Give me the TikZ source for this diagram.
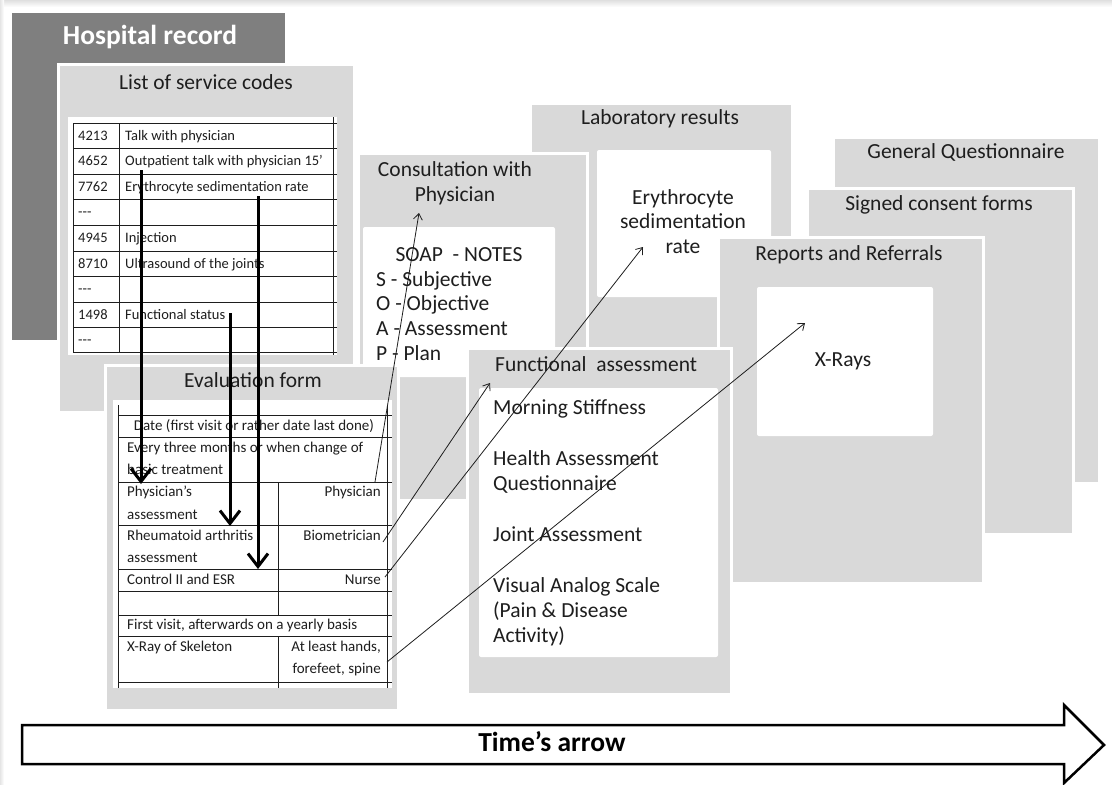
\documentclass[tikz,border=0pt]{standalone}
\usepackage{fontspec}
\setmainfont{Carlito}
\usetikzlibrary{arrows.meta}
\definecolor{panel}{RGB}{217,217,217}
\definecolor{hosp}{RGB}{127,127,127}
\definecolor{ink}{RGB}{30,30,30}
\newcommand{\titlefont}{\fontsize{21.5bp}{24.8bp}\selectfont}
\newcommand{\cellfont}{\fontsize{14.5bp}{22bp}\selectfont}
\newcommand{\evfont}{\fontsize{15bp}{22bp}\selectfont}
\newcommand{\bigbold}{\fontsize{27.5bp}{30bp}\selectfont\bfseries}
\begin{document}
\begin{tikzpicture}[x=1bp,y=-1bp,
  panelbox/.style={fill=panel, draw=white, line width=3bp},
  innerbox/.style={fill=white, rounded corners=2bp},
  ttl/.style={font=\titlefont, inner sep=0pt, text=ink, anchor=mid, yshift=-4bp},
  itm/.style={font=\titlefont, inner sep=0pt, text=ink, anchor=mid west, yshift=-4bp},
  cell/.style={font=\cellfont, inner sep=0pt, text=ink, anchor=mid west, yshift=-2.5bp},
  evl/.style={font=\evfont, inner sep=0pt, text=ink, anchor=mid west, yshift=-2.5bp},
  evr/.style={font=\evfont, inner sep=0pt, text=ink, anchor=mid east, yshift=-2.5bp},
  evc/.style={font=\evfont, inner sep=0pt, text=ink, anchor=mid, yshift=-2.5bp},
  bigtxt/.style={font=\bigbold, inner sep=0pt, anchor=mid, yshift=-4.5bp},
  tbl/.style={line width=0.8bp, draw=ink},
  bigarrow/.style={line width=3bp, draw=black, -{Straight Barb[length=13bp,width=20bp]}},
  thinarrow/.style={line width=0.8bp, draw=ink, -{Straight Barb[length=6bp,width=9bp]}}
]
\useasboundingbox (0,0) rectangle (1112,785);
\fill[white] (0,0) rectangle (1112,785);
\shade[top color=gray!25, bottom color=white] (0,0) rectangle (1112,7);
\shade[left color=gray!20, right color=white] (0,0) rectangle (4,785);

% Hospital record
\fill[hosp] (12,13) rectangle (285,340);
\node[bigtxt, text=white] (hosp) at (150,38) {Hospital record};

% General Questionnaire
\path[panelbox] (833,137) rectangle (1099,483);
\node[ttl] (genq) at (966,152) {General Questionnaire};

% Signed consent forms
\path[panelbox] (807,188) rectangle (1073,534);
\node[ttl] (signed) at (939,204) {Signed consent forms};

% Laboratory results
\path[panelbox] (530,103) rectangle (792,449);
\path[innerbox] (597,150) rectangle (771,297);
\node[ttl] (lab) at (660,118) {Laboratory results};
\node[ttl] (esr1) at (683,198) {Erythrocyte};
\node[ttl] (esr2) at (683,222) {sedimentation};
\node[ttl] (esr3) at (683,247) {rate};

% Consultation with Physician
\path[panelbox] (358,153) rectangle (587,500);
\path[innerbox] (363,227) rectangle (555,377);
\node[ttl] (cons1) at (455,170) {Consultation with};
\node[ttl] (cons2) at (455,195) {Physician};
\node[ttl] (soap) at (459,255) {SOAP\ \ - NOTES};
\node[itm] (soapS) at (376,280) {S - Subjective};
\node[itm] (soapO) at (376,304) {O - Objective};
\node[itm] (soapA) at (376,329) {A - Assessment};
\node[itm] (soapP) at (376,354) {P - Plan};

% Reports and Referrals
\path[panelbox] (718,237) rectangle (983,583);
\path[innerbox] (757,287) rectangle (933,436);
\node[ttl] (rep) at (849,254) {Reports and Referrals};
\node[ttl] (xr) at (843,360) {X-Rays};

% Functional assessment
\path[panelbox] (467,348) rectangle (731,694);
\path[innerbox] (479,388) rectangle (718,657);
\node[itm] (func) at (495,365) {Functional\ \ assessment};
\node[itm] (f1) at (493,408) {Morning Stiffness};
\node[itm] (f2) at (493,459) {Health Assessment};
\node[itm] (f2b) at (493,484) {Questionnaire};
\node[itm] (f3) at (493,535) {Joint Assessment};
\node[itm] (f4) at (493,586) {Visual Analog Scale};
\node[itm] (f4b) at (493,611) {(Pain \& Disease};
\node[itm] (f4c) at (493,636) {Activity)};

% List of service codes
\path[panelbox] (58,65) rectangle (354,412);
\node[ttl] (list) at (206,83) {List of service codes};
\fill[white] (68,117) rectangle (337,355);
\foreach \yy in {123,148,174,199,225,251,276,302,327,352}
  \draw[tbl] (73,\yy) -- (337,\yy);
\draw[tbl] (73,123) -- (73,352);
\draw[tbl] (119,123) -- (119,352);
\draw[tbl] (333,117) -- (333,355);
\node[cell] (c1) at (78,135.5) {4213};
\node[cell] (d1) at (125,135.5) {Talk with physician};
\node[cell] (c2) at (78,161) {4652};
\node[cell] (d2) at (125,161) {Outpatient talk with physician 15’};
\node[cell] (c3) at (78,186.5) {7762};
\node[cell] (d3) at (125,186.5) {Erythrocyte sedimentation rate};
\node[cell] (c4) at (78,212) {-{}-{}-};
\node[cell] (c5) at (78,238) {4945};
\node[cell] (d5) at (125,238) {Injection};
\node[cell] (c6) at (78,263.5) {8710};
\node[cell] (d6) at (125,263.5) {Ultrasound of the joints};
\node[cell] (c7) at (78,289) {-{}-{}-};
\node[cell] (c8) at (78,314.5) {1498};
\node[cell] (d8) at (125,314.5) {Functional status};
\node[cell] (c9) at (78,339.5) {-{}-{}-};

% Evaluation form
\path[panelbox] (105,365) rectangle (398,710);
\node[ttl] (eval) at (253,381) {Evaluation form};
\fill[white] (113,400) rectangle (392,688);
\foreach \yy in {415,437,482,525,569,591,615,636,682}
  \draw[tbl] (118,\yy) -- (392,\yy);
\draw[tbl] (118,405) -- (118,688);
\draw[tbl] (387,405) -- (387,688);
\draw[tbl] (278,482) -- (278,615);
\draw[tbl] (278,636) -- (278,688);
\node[evc] (e1) at (254,426) {Date (first visit or rather date last done)};
\node[evl] (e2) at (127,448) {Every three months or when change of};
\node[evl] (e2b) at (127,470) {basic treatment};
\node[evl] (e3) at (127,492) {Physician’s};
\node[evl] (e3b) at (127,515) {assessment};
\node[evr] (e3r) at (381,492) {Physician};
\node[evl] (e4) at (127,536) {Rheumatoid arthritis};
\node[evl] (e4b) at (127,558) {assessment};
\node[evr] (e4r) at (381,536) {Biometrician};
\node[evl] (e5) at (127,580) {Control II and ESR};
\node[evr] (e5r) at (381,580) {Nurse};
\node[evl] (e6) at (127,625) {First visit, afterwards on a yearly basis};
\node[evl] (e7) at (127,647) {X-Ray of Skeleton};
\node[evr] (e7r) at (381,647) {At least hands,};
\node[evr] (e7rb) at (381,669) {forefeet, spine};

% thick arrows
\coordinate (s1) at (141,170);  \coordinate (t1) at (141,484);
\coordinate (s2) at (230,313);  \coordinate (t2) at (230,526);
\coordinate (s3) at (258,196);  \coordinate (t3) at (258,569);
\draw[bigarrow] (s1) -- (t1);
\draw[bigarrow] (s2) -- (t2);
\draw[bigarrow] (s3) -- (t3);

% thin arrows
\coordinate (p1) at (375,482); \coordinate (q1) at (419,213);
\coordinate (p2) at (383,542); \coordinate (q2) at (490,383);
\coordinate (p3) at (385,577); \coordinate (q3) at (643,247);
\coordinate (p4) at (387,662); \coordinate (q4) at (805,323);
\draw[thinarrow] (p1) -- (q1);
\draw[thinarrow] (p2) -- (q2);
\draw[thinarrow] (p3) -- (q3);
\draw[thinarrow] (p4) -- (q4);

% Time's arrow
\draw[line width=2.5bp, fill=white, line join=miter]
  (22,725) -- (1064,725) -- (1064,705) -- (1104,745) -- (1064,783) -- (1064,764) -- (22,764) -- cycle;
\node[bigtxt, text=black] (time) at (552,745) {Time’s arrow};
\end{tikzpicture}
\end{document}
